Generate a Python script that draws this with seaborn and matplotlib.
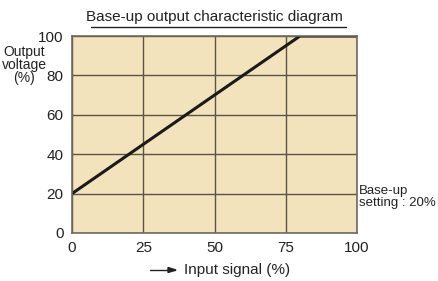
import matplotlib
matplotlib.use("Agg")
import matplotlib.pyplot as plt
import seaborn as sns
import pandas as pd

input_signal = [0, 80, 100]
output_voltage = [20, 100, 100]
x_ticks = [0, 25, 50, 75, 100]
y_ticks = [0, 20, 40, 60, 80, 100]

sns.set_theme(style="white")
plt.rcParams['font.family'] = ['Liberation Sans', 'DejaVu Sans']

df = pd.DataFrame({"x": input_signal, "y": output_voltage})

fig = plt.figure(figsize=(4.38, 2.81), dpi=100)
ax = fig.add_axes([72/438, 1-233/281, 285/438, 197/281])
ax.set_facecolor("#f3e3bc")
ax.set_xlim(0, 100)
ax.set_ylim(0, 100)
ax.set_xticks(x_ticks)
ax.set_yticks(y_ticks)
ax.set_xticklabels([str(v) for v in x_ticks])
ax.set_yticklabels([str(v) for v in y_ticks])
ax.grid(True, color="#5a5346", linewidth=1.0)
ax.set_axisbelow(True)
sns.lineplot(data=df, x="x", y="y", ax=ax, color="#1a1a1a", linewidth=2.2)
ax.set_xlabel("")
ax.set_ylabel("")
for s in ax.spines.values():
    s.set_color("#6e6a62")
    s.set_linewidth(1.2)
ax.tick_params(axis="both", length=0, labelsize=11, colors="#222222")
ax.tick_params(axis="x", pad=6)
ax.tick_params(axis="y", pad=6)

fig.text(214/438, 1-17/281, "Base-up output characteristic diagram", ha="center", va="center",
         fontsize=11, color="#222222")
fig.add_artist(plt.Line2D([91/438, 346/438], [1-27/281, 1-27/281], color="#222222", linewidth=1.0))
fig.text(24/438, 1-65/281, "Output\nvoltage\n(%)", ha="center", va="center", fontsize=10,
         color="#222222", linespacing=0.9)
fig.text(359/438, 1-197/281, "Base-up\nsetting : 20%", ha="left", va="center", fontsize=9.5,
         color="#222222", linespacing=1.05)
fig.text(184/438, 1-270/281, "Input signal (%)", ha="left", va="center", fontsize=11, color="#222222")
fig.add_artist(plt.Line2D([150/438, 175/438], [1-270/281, 1-270/281], color="#222222", linewidth=1.0))
fig.add_artist(matplotlib.patches.FancyArrow(168/438, 1-270/281, 8/438, 0, width=0.0, head_width=0.018,
                                             head_length=8/438, length_includes_head=True, color="#222222"))
fig.savefig("out.png", dpi=100)
